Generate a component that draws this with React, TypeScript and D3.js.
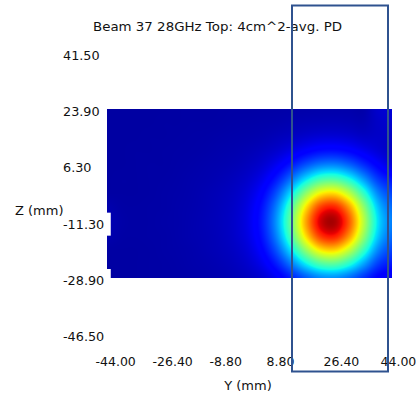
import React, { useMemo } from "react";
import * as d3 from "d3";

const title = "Beam 37 28GHz Top: 4cm^2-avg. PD";

// tick labels
const yTicks = [-44, -26.4, -8.8, 8.8, 26.4, 44];
const zTicks = [41.5, 23.9, 6.3, -11.3, -28.9, -46.5];

// grid nodes of the PD map (mm)
const yNodes = [-44, -39.6, -35.2, -30.8, -26.4, -22, -17.6, -13.2, -8.8, -4.4, 0, 4.4, 8.8, 13.2, 17.6, 22, 26.4, 30.8, 35.2, 39.6, 44];
const zNodes = [23.9, 19.5, 15.1, 10.7, 6.3, 1.9, -2.5, -6.9, -11.3, -15.7, -20.1, -24.5, -28.9];

// normalised power density, one row per z node
const pd = [
  [.030, .030, .030, .030, .030, .031, .031, .031, .032, .033, .033, .034, .035, .036, .037, .038, .038, .038, .037, .066, .075],
  [.030, .030, .030, .030, .031, .031, .032, .032, .033, .035, .036, .038, .040, .044, .047, .049, .050, .048, .045, .061, .069],
  [.030, .030, .030, .031, .031, .032, .033, .034, .036, .038, .040, .044, .051, .059, .069, .076, .077, .072, .062, .063, .061],
  [.030, .030, .031, .031, .032, .033, .034, .036, .039, .042, .047, .056, .070, .092, .117, .136, .139, .125, .100, .077, .060],
  [.030, .030, .031, .032, .032, .034, .036, .039, .042, .047, .056, .073, .105, .154, .210, .252, .259, .226, .171, .119, .082],
  [.030, .031, .031, .032, .033, .035, .038, .041, .046, .054, .068, .098, .156, .247, .353, .434, .447, .385, .281, .182, .140],
  [.031, .031, .031, .032, .034, .036, .039, .044, .050, .060, .081, .127, .217, .361, .529, .656, .677, .578, .414, .258, .190],
  [.040, .033, .032, .033, .034, .037, .040, .045, .052, .064, .091, .151, .269, .459, .680, .850, .877, .746, .529, .322, .230],
  [.045, .035, .032, .033, .035, .037, .041, .046, .053, .066, .095, .160, .291, .499, .743, .929, .960, .816, .577, .349, .250],
  [.040, .033, .032, .033, .034, .037, .041, .045, .052, .065, .091, .151, .271, .462, .686, .856, .884, .752, .533, .325, .230],
  [.031, .031, .031, .032, .034, .036, .039, .044, .050, .060, .081, .128, .220, .366, .537, .667, .688, .587, .421, .261, .190],
  [.030, .031, .031, .032, .033, .035, .038, .041, .046, .054, .069, .100, .159, .252, .361, .443, .457, .393, .287, .185, .145],
  [.030, .031, .031, .032, .033, .034, .036, .039, .042, .048, .057, .074, .107, .157, .215, .258, .265, .232, .175, .121, .100],
];

const W = 419;
const H = 398;

// jet colormap
const jetR = d3.scaleLinear().domain([0, 0.35, 0.66, 0.89, 1]).range([0, 0, 1, 1, 0.5]).clamp(true);
const jetG = d3.scaleLinear().domain([0, 0.125, 0.375, 0.64, 0.91, 1]).range([0, 0, 1, 1, 0, 0]).clamp(true);
const jetB = d3.scaleLinear().domain([0, 0.11, 0.34, 0.65, 1]).range([0.5, 1, 1, 0, 0]).clamp(true);

const cr = (p0: number, p1: number, p2: number, p3: number, t: number) =>
  0.5 * (2 * p1 + (-p0 + p2) * t + (2 * p0 - 5 * p1 + 4 * p2 - p3) * t * t + (-p0 + 3 * p1 - 3 * p2 + p3) * t * t * t);

function App() {
  const x = d3.scaleLinear().domain([-44, 44]).range([107, 392]);
  const y = d3.scaleLinear().domain([23.9, -28.9]).range([109, 278]);
  const iScale = d3.scaleLinear().domain([yNodes[0], yNodes[yNodes.length - 1]]).range([0, yNodes.length - 1]);
  const jScale = d3.scaleLinear().domain([zNodes[0], zNodes[zNodes.length - 1]]).range([0, zNodes.length - 1]);

  const x0 = x(-44), x1 = x(44), y0 = y(23.9), y1 = y(-28.9);
  const imgW = Math.round(x1 - x0);
  const imgH = Math.round(y1 - y0);

  const href = useMemo(() => {
    const canvas = document.createElement("canvas");
    canvas.width = imgW;
    canvas.height = imgH;
    const ctx = canvas.getContext("2d")!;
    const img = ctx.createImageData(imgW, imgH);
    const nI = yNodes.length, nJ = zNodes.length;
    const at = (j: number, i: number) => pd[Math.max(0, Math.min(nJ - 1, j))][Math.max(0, Math.min(nI - 1, i))];
    for (let r = 0; r < imgH; r++) {
      const fj = jScale(y.invert(y0 + r + 0.5));
      const j = Math.min(nJ - 2, Math.floor(fj));
      const tj = fj - j;
      for (let c = 0; c < imgW; c++) {
        const fi = iScale(x.invert(x0 + c + 0.5));
        const i = Math.min(nI - 2, Math.floor(fi));
        const ti = fi - i;
        const rows = [-1, 0, 1, 2].map((dj) =>
          cr(at(j + dj, i - 1), at(j + dj, i), at(j + dj, i + 1), at(j + dj, i + 2), ti)
        );
        const v = cr(rows[0], rows[1], rows[2], rows[3], tj);
        const k = (r * imgW + c) * 4;
        img.data[k] = Math.round(jetR(v) * 255);
        img.data[k + 1] = Math.round(jetG(v) * 255);
        img.data[k + 2] = Math.round(jetB(v) * 255);
        img.data[k + 3] = 255;
      }
    }
    ctx.putImageData(img, 0, 0);
    return canvas.toDataURL();
  }, []);

  const fmt = (v: number) => v.toFixed(2); // plain hyphen, not unicode minus
  const textW = (s: string, fs: number) =>
    d3.sum(s.split(""), (ch) => (ch === "." ? 0.318 : ch === "-" ? 0.361 : 0.636)) * fs;

  return (
    <svg
      width={W}
      height={H}
      style={{ position: "absolute", left: 0, top: 0, background: "#fff" }}
      fontFamily="DejaVu Sans"
      fill="#111"
    >
      <text x={93} y={30.5} fontSize={13} textLength={249} lengthAdjust="spacingAndGlyphs">
        {title}
      </text>

      <image href={href} x={x0} y={y0} width={imgW} height={imgH} preserveAspectRatio="none" />

      {zTicks.map((v) => {
        const s = fmt(v);
        const ty = y(v) + 2.5;
        return (
          <g key={s}>
            {/* label boxes are white and bite into the map edge */}
            <rect x={61} y={ty - 11.5} width={textW(s, 12.8) + 8.5} height={23} fill="#fff" />
            <text x={63} y={ty} dy="0.35em" fontSize={12.8}>
              {s}
            </text>
          </g>
        );
      })}

      {yTicks.map((v) => (
        <text key={v} x={x(v) - 11.5} y={366} fontSize={12.5}>
          {fmt(v)}
        </text>
      ))}

      <text x={15} y={214.5} fontSize={13}>
        Z (mm)
      </text>
      <text x={248} y={390} fontSize={13} textAnchor="middle">
        Y (mm)
      </text>

      <rect x={292} y={5.5} width={96} height={366} fill="none" stroke="#2f528f" strokeWidth={2} />
    </svg>
  );
}

export default App;
